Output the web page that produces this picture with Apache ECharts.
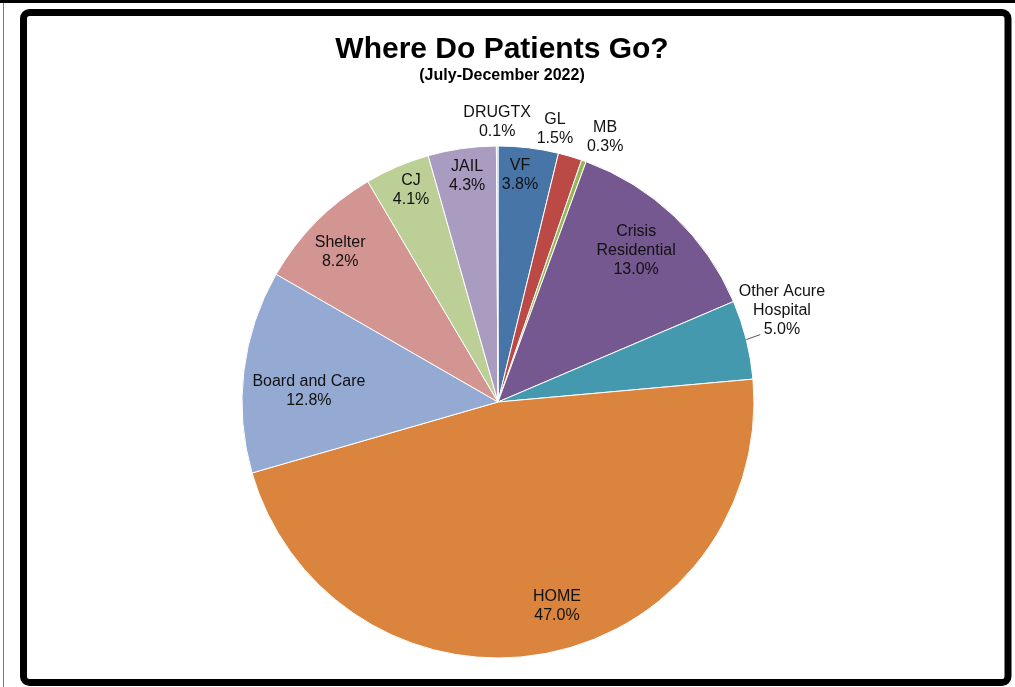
<!DOCTYPE html>
<html>
<head>
<meta charset="utf-8">
<script src="https://cdn.jsdelivr.net/npm/echarts@6/dist/echarts.min.js"></script>
<style>
  html, body { margin: 0; padding: 0; background: #fff; }
  #chart { width: 1015px; height: 687px; }
</style>
</head>
<body>
<div id="chart"></div>
<script>
// Discharge destinations, clockwise from 12 o'clock
const categories = ['VF', 'GL', 'MB', 'Crisis\nResidential', 'Other Acure\nHospital', 'HOME',
  'Board and Care', 'Shelter', 'CJ', 'JAIL', 'DRUGTX'];
const shares = [3.8, 1.5, 0.3, 13.0, 5.0, 47.0, 12.8, 8.2, 4.1, 4.3, 0.1];

const sliceColors = ['#4775A8', '#BB4945', '#98B655', '#74588F', '#4599AF', '#DA843E',
  '#94AAD2', '#D39592', '#BBCF97', '#AA9CC0', '#93CDDD'];

// label placement: distance as a fraction of the radius, and angular nudge (degrees)
const labelRadial = [0.89, 1.09, 1.117, 0.80, 1.165, 0.83, 0.74, 0.85, 0.895, 0.89, 1.094];
const labelNudge = [-1.3, -4.6, 2.4, -1.1, -3.7, -5.5, -3.6, -1.2, 0.9, 0.3, 0];
const outsideLabels = ['GL', 'MB', 'Other Acure\nHospital', 'DRUGTX'];
const leaderFor = 'Other Acure\nHospital';

const CX = 498, CY = 402, R = 256;
const FONT = '"Liberation Sans", Arial, sans-serif';

const total = shares.reduce((a, b) => a + b, 0);
const midAngles = [];
{
  let acc = 0;
  shares.forEach(v => { midAngles.push((acc + v / 2) / total * 360); acc += v; });
}

// short leader from the rim of a slice (at its mid angle) toward its label
function leaderLine(name) {
  const i = categories.indexOf(name);
  const a = midAngles[i] * Math.PI / 180;
  const x1 = CX + R * Math.sin(a), y1 = CY - R * Math.cos(a);
  return {
    type: 'line', z: 10,
    shape: { x1: x1, y1: y1, x2: x1 + 14, y2: y1 - 5 },
    style: { stroke: '#555', lineWidth: 1 }
  };
}

const chart = echarts.init(document.getElementById('chart'), null, { renderer: 'canvas' });

chart.setOption({
  backgroundColor: '#fff',
  animation: false,
  title: {
    text: 'Where Do Patients Go?',
    subtext: '(July-December 2022)',
    left: 497,
    textAlign: 'center',
    top: 30,
    itemGap: 3,
    textStyle: { fontFamily: FONT, fontSize: 30, fontWeight: 'bold', color: '#000' },
    subtextStyle: { fontFamily: FONT, fontSize: 16, fontWeight: 'bold', color: '#000' }
  },
  graphic: [
    { type: 'rect', shape: { x: 0, y: 0, width: 1015, height: 3 }, style: { fill: '#000' } },
    { type: 'line', shape: { x1: 3.5, y1: 3, x2: 3.5, y2: 687 }, style: { stroke: '#777', lineWidth: 1 } },
    { type: 'rect', shape: { x: 23.5, y: 12.5, width: 984.5, height: 670, r: 6 },
      style: { fill: 'none', stroke: '#000', lineWidth: 7 } },
    leaderLine(leaderFor)
  ],
  series: [{
    type: 'pie',
    center: [CX, CY],
    radius: [0, R],
    startAngle: 90,
    clockwise: true,
    avoidLabelOverlap: false,
    itemStyle: { borderColor: '#fff', borderWidth: 1 },
    label: {
      show: true,
      position: 'inside',
      fontFamily: FONT,
      fontSize: 16,
      lineHeight: 19,
      color: '#111',
      align: 'center',
      formatter: p => p.name + '\n' + p.value.toFixed(1) + '%'
    },
    labelLine: { show: false },
    labelLayout: params => {
      const i = params.dataIndex;
      const a = (midAngles[i] + labelNudge[i]) * Math.PI / 180;
      const d = labelRadial[i] * R;
      return {
        x: CX + d * Math.sin(a),
        y: CY - d * Math.cos(a),
        align: 'center',
        verticalAlign: 'middle'
      };
    },
    data: categories.map((name, i) => {
      const item = { name, value: shares[i], itemStyle: { color: sliceColors[i] } };
      if (outsideLabels.includes(name)) {
        item.label = { position: 'outside' };
        item.labelLine = { show: false };
      }
      return item;
    })
  }]
});
</script>
</body>
</html>
